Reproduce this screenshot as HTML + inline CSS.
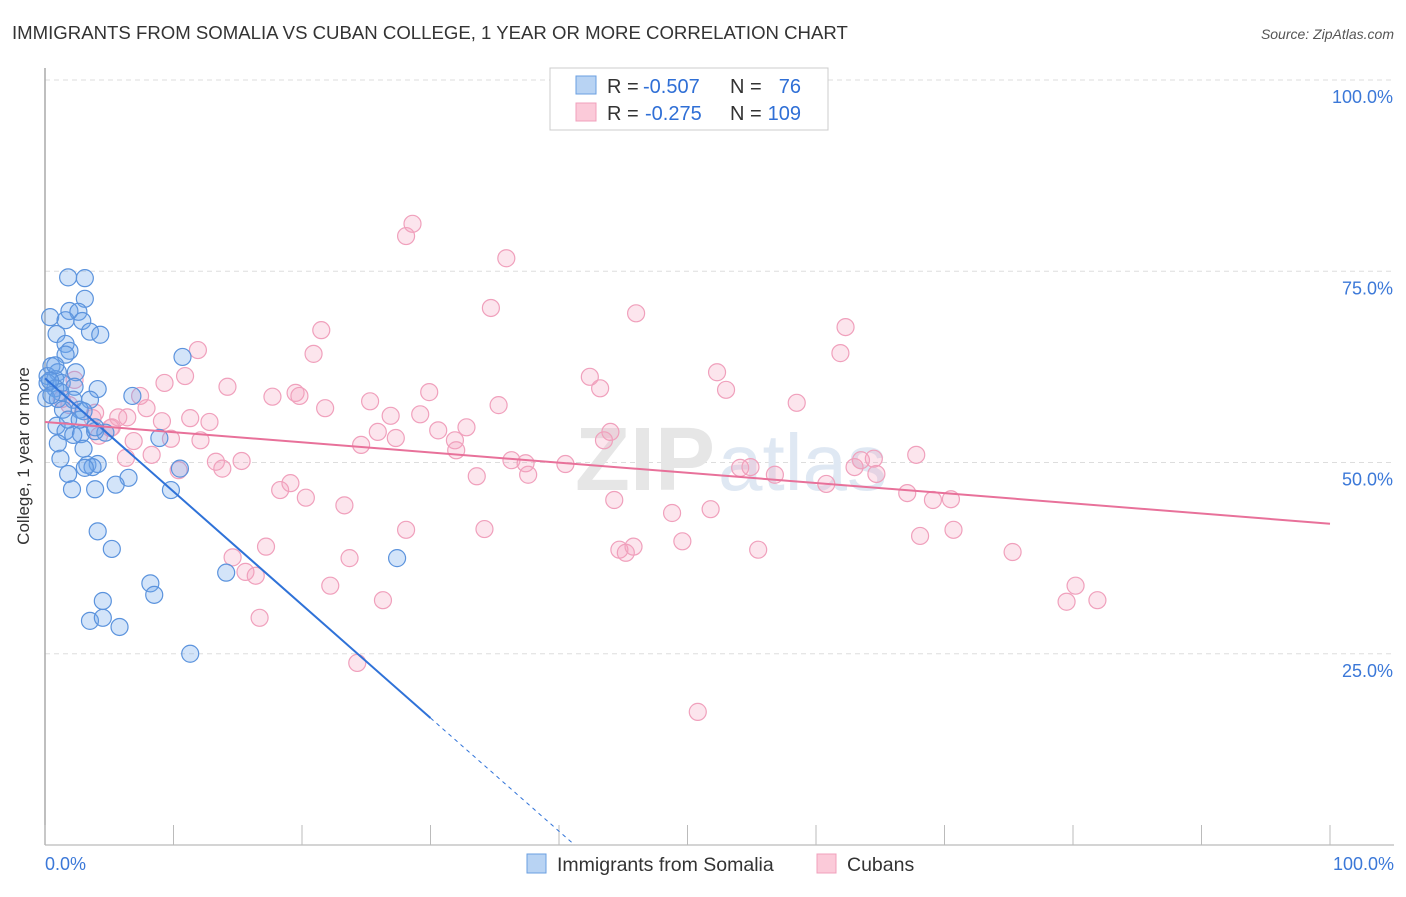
<!DOCTYPE html>
<html><head><meta charset="utf-8"><style>
body{margin:0;background:#fff;font-family:"Liberation Sans",sans-serif}
</style></head><body>
<svg width="1406" height="892" xmlns="http://www.w3.org/2000/svg" font-family="Liberation Sans, sans-serif">
<text x="12" y="39" font-size="18.6" fill="#333">IMMIGRANTS FROM SOMALIA VS CUBAN COLLEGE, 1 YEAR OR MORE CORRELATION CHART</text>
<text x="1394" y="39" font-size="14" fill="#555" text-anchor="end" font-style="italic">Source: ZipAtlas.com</text>
<g id="grid"></g>
<text x="715" y="490" font-size="90" fill="#e6e6e6" text-anchor="end" font-weight="bold">ZIP</text>
<text x="718" y="490" font-size="80" fill="#dfe8f3">atlas</text>
<g id="pts"></g>
<g id="lines"></g>
<text x="29" y="456" font-size="17" fill="#333" text-anchor="middle" transform="rotate(-90 29 456)">College, 1 year or more</text>
<g font-size="20">
<rect x="550" y="68" width="278" height="62" fill="#fff" stroke="#ccc"/>
<rect x="576" y="76" width="20" height="18" fill="#b8d3f3" stroke="#6a9fe0"/>
<rect x="576" y="103" width="20" height="18" fill="#fbcad9" stroke="#f0a0bc"/>
<text x="607" y="93" fill="#333">R =</text>
<text x="643" y="93" fill="#2f6fd6">-0.507</text>
<text x="730" y="93" fill="#333">N =</text>
<text x="801" y="93" fill="#2f6fd6" text-anchor="end">76</text>
<text x="607" y="120" fill="#333">R =</text>
<text x="645" y="120" fill="#2f6fd6">-0.275</text>
<text x="730" y="120" fill="#333">N =</text>
<text x="801" y="120" fill="#2f6fd6" text-anchor="end">109</text>
</g>
<g>
<rect x="527" y="854" width="19" height="19" fill="#b8d3f3" stroke="#6a9fe0"/>
<text x="557" y="871" font-size="19.5" fill="#333">Immigrants from Somalia</text>
<rect x="817" y="854" width="19" height="19" fill="#fbcad9" stroke="#f0a0bc"/>
<text x="847" y="871" font-size="19.5" fill="#333">Cubans</text>
</g>
</svg>
<script>
const yTicks=[100,75,50,25];
const yTickLabels=["100.0%","75.0%","50.0%","25.0%"];
const xTickLabels=["0.0%","100.0%"];
const blueX=[1.8,3.1,3.1,1.9,2.6,0.4,2.9,1.6,3.5,4.3,0.9,1.6,1.9,1.6,10.7,0.5,1.0,2.4,0.2,0.8,1.3,2.3,4.1,0.2,0.8,1.2,6.8,0.1,1.0,3.5,2.2,2.7,3.0,0.9,1.6,2.2,2.8,3.9,4.7,8.9,1.0,3.0,1.2,3.3,4.1,3.7,3.1,10.5,1.8,6.5,2.1,3.9,5.5,9.8,4.1,5.2,8.2,14.1,27.4,4.5,8.5,3.5,4.5,5.8,11.3,0.8,0.4,0.5,1.4,3.9,1.8,2.7];
const blueY=[74.2,74.1,71.4,69.8,69.7,69.0,68.5,68.6,67.1,66.7,66.8,65.5,64.6,64.1,63.8,62.6,61.8,61.8,61.3,60.9,60.4,59.9,59.6,60.4,59.7,59.2,58.7,58.4,58.3,58.2,58.2,56.9,56.7,54.8,54.1,53.6,53.7,54.1,53.9,53.2,52.5,51.8,50.5,49.7,49.8,49.4,49.3,49.2,48.5,48.0,46.5,46.5,47.1,46.4,41.0,38.7,34.2,35.6,37.5,31.9,32.7,29.3,29.7,28.5,25.0,62.7,60.7,58.8,56.9,54.6,55.6,55.6];
const pinkX=[28.1,28.6,35.9,34.7,46.0,21.5,11.9,20.9,62.3,61.9,10.9,9.3,14.2,7.4,17.7,19.5,19.8,29.9,42.4,43.2,52.3,53.0,35.3,58.5,7.9,5.7,11.3,12.8,9.1,21.8,25.3,26.9,29.2,30.6,32.8,31.9,27.3,24.6,25.9,32.0,44.0,43.5,12.1,9.8,6.9,3.7,5.1,4.2,6.3,8.3,13.3,13.8,15.3,10.4,36.3,37.4,40.5,33.6,37.6,54.1,54.9,56.8,63.0,63.5,64.5,67.8,64.7,60.8,18.3,19.1,20.3,23.3,44.3,48.8,51.8,67.1,69.1,70.5,28.1,34.2,49.6,17.2,14.6,23.7,44.7,45.2,45.8,55.5,68.1,70.7,75.3,15.6,16.4,22.2,26.3,80.2,79.5,81.9,16.7,24.3,50.8,1.3,1.9,3.9,5.2,6.4,2.3];
const pinkY=[79.6,81.2,76.7,70.2,69.5,67.3,64.7,64.2,67.7,64.3,61.3,60.4,59.9,58.7,58.6,59.1,58.7,59.2,61.2,59.7,61.8,59.5,57.5,57.8,57.1,55.9,55.8,55.3,55.4,57.1,58.0,56.1,56.3,54.2,54.6,52.9,53.2,52.3,54.0,51.6,54.0,52.9,52.9,53.1,52.8,55.8,54.5,53.5,50.6,51.0,50.1,49.2,50.2,49.0,50.3,49.9,49.8,48.2,48.4,49.3,49.4,48.4,49.4,50.3,50.5,51.0,48.5,47.2,46.4,47.3,45.4,44.4,45.1,43.4,43.9,46.0,45.1,45.2,41.2,41.3,39.7,39.0,37.6,37.5,38.6,38.2,39.0,38.6,40.4,41.2,38.3,35.7,35.2,33.9,32.0,33.9,31.8,32.0,29.7,23.8,17.4,58.3,57.5,56.5,54.6,55.9,60.8];
const blueTrend=[61.0,-1.48];
const pinkTrend=[55.3,-0.133];
const NS="http://www.w3.org/2000/svg";
const sx=v=>45+v*12.85, sy=v=>845-v*7.65;
function mk(t,a,p){const e=document.createElementNS(NS,t);for(const k in a)e.setAttribute(k,a[k]);p.appendChild(e);return e;}
const grid=document.getElementById('grid');
yTicks.forEach((t,i)=>{
 const l=mk('line',{x1:45,x2:1394,y1:sy(t),y2:sy(t),stroke:'#ddd','stroke-dasharray':'5,4'},grid);
 
 
 const tx=mk('text',{x:1393,y:sy(t)+23,'font-size':18,fill:'#3b78d8','text-anchor':'end'},grid);tx.textContent=yTickLabels[i];
 
 
});
const ax=mk('line',{x1:45,x2:45,y1:68,y2:845,stroke:'#aaa','stroke-width':1.5},grid);


const bx=mk('line',{x1:45,x2:1394,y1:845,y2:845,stroke:'#aaa'},grid);


for(let i=0;i<=10;i++){const t=mk('line',{x1:sx(i*10),x2:sx(i*10),y1:825,y2:845,stroke:'#bbb'},grid);
 
 }
[[0,'start',45],[1,'end',1394]].forEach(([i,a,x])=>{const t=mk('text',{x:x,y:870,'font-size':18,fill:'#3b78d8','text-anchor':a},grid);t.textContent=xTickLabels[i];
 
 });
const pts=document.getElementById('pts');
pinkX.forEach((x,i)=>{const c=mk('circle',{cx:sx(x),cy:sy(pinkY[i]),r:8.5,fill:'rgba(244,160,190,0.28)',stroke:'#f0a0bc','stroke-width':1.2},pts);
 
 });
blueX.forEach((x,i)=>{const c=mk('circle',{cx:sx(x),cy:sy(blueY[i]),r:8.5,fill:'rgba(110,165,235,0.3)',stroke:'#5b93dd','stroke-width':1.2},pts);
 
 });
const ln=document.getElementById('lines');
const f=(t,x)=>t[0]+t[1]*x;
const b1=mk('line',{x1:sx(0),y1:sy(f(blueTrend,0)),x2:sx(30),y2:sy(f(blueTrend,30)),stroke:'#2f72d8','stroke-width':2},ln);


const xe=-blueTrend[0]/blueTrend[1];
const b2=mk('line',{x1:sx(30),y1:sy(f(blueTrend,30)),x2:sx(xe),y2:sy(0),stroke:'#2f72d8','stroke-width':1,'stroke-dasharray':'4,4'},ln);


const p1=mk('line',{x1:sx(0),y1:sy(f(pinkTrend,0)),x2:sx(100),y2:sy(f(pinkTrend,100)),stroke:'#e8719a','stroke-width':2},ln);


</script>
</body></html>
